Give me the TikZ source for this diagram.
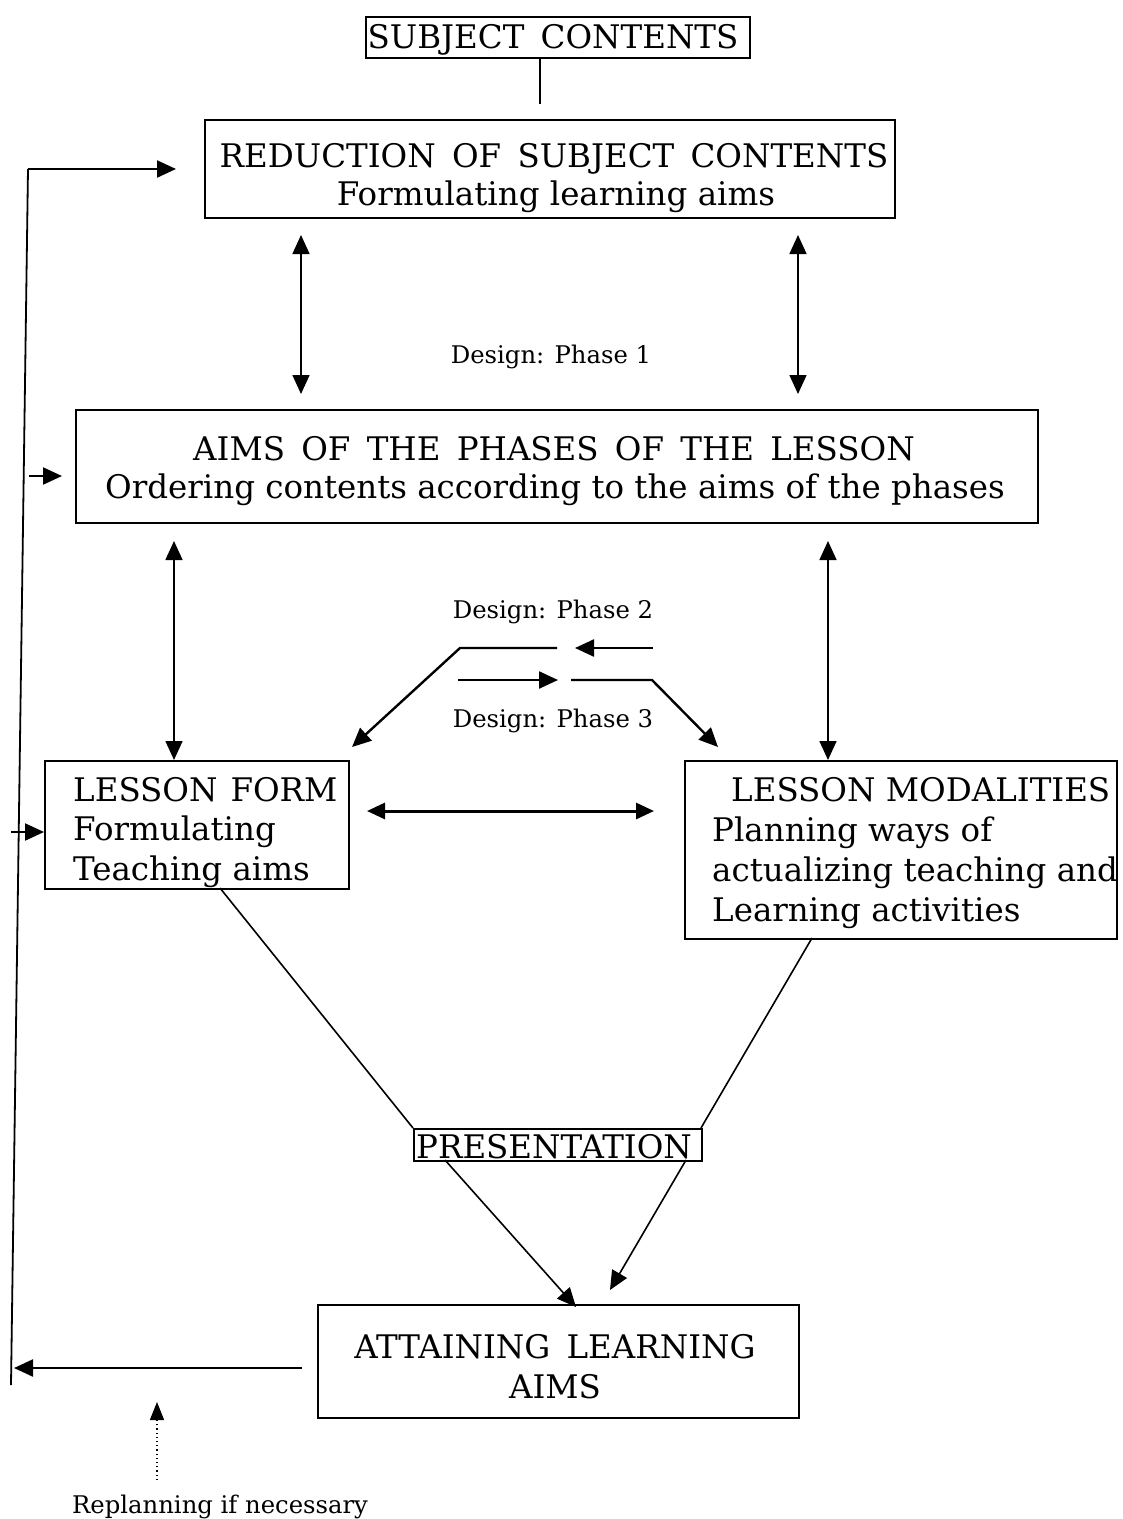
\documentclass[tikz,border=0pt]{standalone}
\usepackage{fontspec}
\setmainfont{DejaVu Serif}
\usetikzlibrary{arrows.meta}
\newcommand\wgap{\hspace{0.5em}}
\begin{document}
\begin{tikzpicture}[x=1pt,y=-1pt,
  box/.style={draw, line width=2pt, inner sep=0pt, anchor=north west},
  big/.style={font=\fontsize{32.5}{40}\selectfont, inner sep=0pt},
  small/.style={font=\fontsize{24.3}{28}\selectfont, inner sep=0pt},
  tip/.tip={Triangle[length=19pt,width=17pt]},
  conn/.style={line width=1.6pt},
  arr/.style={line width=1.6pt, -tip},
  darr/.style={line width=1.6pt, tip-tip},
]
\useasboundingbox (0,0) rectangle (1123,1519);

% boxes
\node[box, minimum width=384pt, minimum height=41pt] (subj) at (365,16) {};
\node[box, minimum width=690pt, minimum height=98pt] (red) at (204,119) {};
\node[box, minimum width=962pt, minimum height=113pt] (aims) at (75,409) {};
\node[box, minimum width=304pt, minimum height=128pt] (form) at (44,760) {};
\node[box, minimum width=432pt, minimum height=178pt] (mod) at (684,760) {};
\node[box, minimum width=288pt, minimum height=32pt] (pres) at (413,1128) {};
\node[box, minimum width=481pt, minimum height=113pt] (att) at (317,1304) {};

% texts
\node[big, anchor=base] (subjt) at (553,48) {SUBJECT\wgap CONTENTS};
\node[big, anchor=base] (red1) at (554,167) {REDUCTION\wgap OF\wgap SUBJECT\wgap CONTENTS};
\node[big, anchor=base] (red2) at (556,205) {Formulating learning aims};
\node[big, anchor=base] (aims1) at (554,460) {AIMS\wgap OF\wgap THE\wgap PHASES\wgap OF\wgap THE\wgap LESSON};
\node[big, anchor=base] (aims2) at (555,498) {Ordering contents according to the aims of the phases};
\node[big, anchor=base west] (form1) at (73,801) {LESSON\hspace{0.4em}FORM};
\node[big, anchor=base west] (form2) at (73,840) {Formulating};
\node[big, anchor=base west] (form3) at (73,880) {Teaching aims};
\node[big, anchor=base west] (mod1) at (731,801) {LESSON MODALITIES};
\node[big, anchor=base west] (mod2) at (712,841) {Planning ways of};
\node[big, anchor=base west] (mod3) at (712,881) {actualizing teaching and};
\node[big, anchor=base west] (mod4) at (712,921) {Learning activities};
\node[big, anchor=base] (prest) at (554,1158) {PRESENTATION};
\node[big, anchor=base] (att1) at (555,1358) {ATTAINING\wgap LEARNING};
\node[big, anchor=base] (att2) at (555,1398) {AIMS};
\node[small, anchor=base] (ph1) at (551,363) {Design: Phase 1};
\node[small, anchor=base] (ph2) at (553,618) {Design: Phase 2};
\node[small, anchor=base] (ph3) at (553,727) {Design: Phase 3};
\node[small, anchor=base west] (repl) at (72,1513) {Replanning if necessary};

% free ends
\coordinate (subjdn) at (540,104);
\coordinate (a1t) at (301,235); \coordinate (a1b) at (301,394);
\coordinate (a2t) at (798,235); \coordinate (a2b) at (798,394);
\coordinate (b1t) at (174,541); \coordinate (b1b) at (174,760);
\coordinate (b2t) at (828,541); \coordinate (b2b) at (828,760);
\coordinate (h1) at (367,811); \coordinate (h2) at (654,811);
\coordinate (u1) at (653,648); \coordinate (u2) at (575,648);
\coordinate (u3) at (557,648); \coordinate (u4) at (460,648); \coordinate (u5) at (352,747);
\coordinate (l1) at (458,680); \coordinate (l2) at (558,680);
\coordinate (l3) at (571,680); \coordinate (l4) at (652,680); \coordinate (l5) at (718,747);
\coordinate (fb) at (220,888); \coordinate (mb) at (812,938);
\coordinate (ptl) at (413,1128); \coordinate (ptr) at (701,1128);
\coordinate (pbl) at (445,1160); \coordinate (pbr) at (686,1160);
\coordinate (at1) at (576,1307); \coordinate (at2) at (610,1290);
\coordinate (back1) at (302,1368); \coordinate (back2) at (14,1368);
\coordinate (vb) at (11,1385); \coordinate (vt) at (28,169); \coordinate (rt) at (176,169);
\coordinate (s1a) at (29,476); \coordinate (s1b) at (62,476);
\coordinate (s2a) at (11,832);
\coordinate (d1) at (157,1480); \coordinate (d2) at (157,1402);

% connectors
\draw[conn] (subj.south -| subjdn) -- (subjdn);
\draw[darr] (a1t) -- (a1b);
\draw[darr] (a2t) -- (a2b);
\draw[darr] (b1t) -- (b1b);
\draw[darr] (b2t) -- (b2b);
\draw[line width=3pt, {Triangle[length=18pt,width=16pt]}-{Triangle[length=18pt,width=16pt]}] (h1) -- (h2);
\draw[line width=2.4pt, -tip] (u1) -- (u2);
\draw[line width=2.4pt, -tip] (u3) -- (u4) -- (u5);
\draw[line width=2.4pt, -tip] (l1) -- (l2);
\draw[line width=2.4pt, -tip] (l3) -- (l4) -- (l5);
\draw[conn] (fb) -- (ptl);
\draw[conn] (mb) -- (ptr);
\draw[arr] (pbl) -- (at1);
\draw[arr] (pbr) -- (at2);
\draw[line width=2.2pt, -tip] (back1) -- (back2);
\draw[conn, line width=1.8pt] (vb) -- (vt);
\draw[line width=2.2pt, -tip] (vt) -- (rt);
\draw[line width=2.2pt, -tip] (s1a) -- (s1b);
\draw[line width=2.2pt, -tip] (s2a) -- (form.west |- s2a);
\draw[line width=1.2pt, dash pattern=on 1.2pt off 3pt, -{Triangle[length=18pt,width=14pt]}] (d1) -- (d2);
\end{tikzpicture}
\end{document}
